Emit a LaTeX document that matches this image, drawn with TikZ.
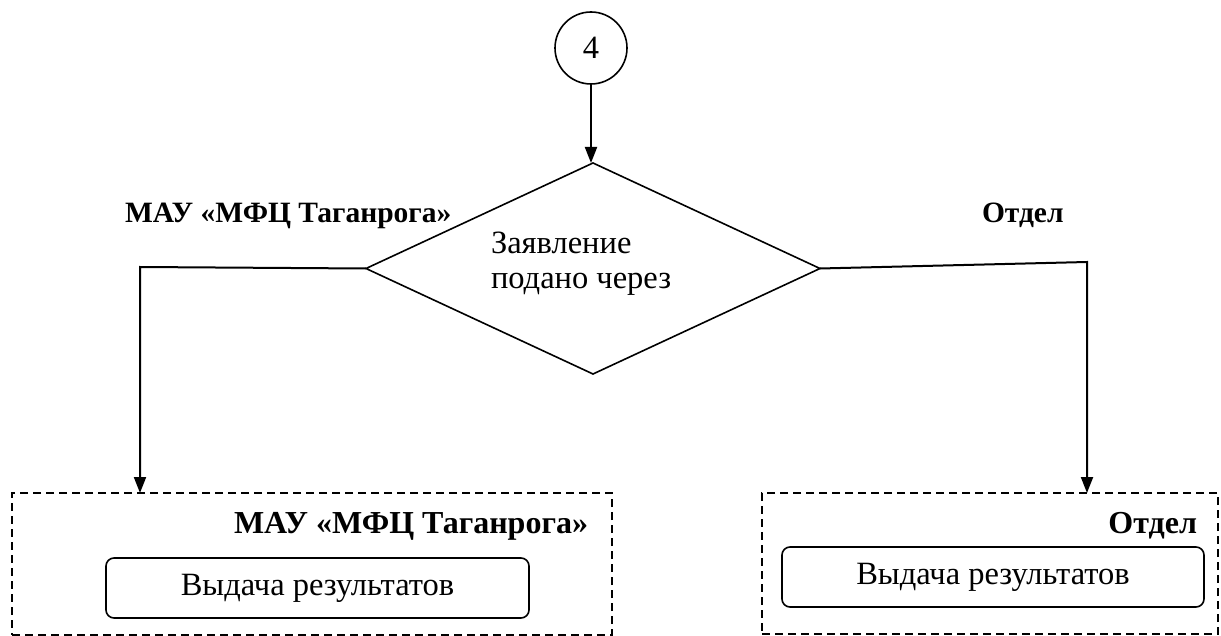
\documentclass[tikz,border=0pt]{standalone}
\usepackage{fontspec}
\setmainfont{Liberation Serif}
\usetikzlibrary{shapes.geometric,arrows.meta,calc}
\begin{document}
\begin{tikzpicture}[x=1pt,y=-1pt,
  every node/.style={inner sep=0pt, outer sep=0pt},
  reg/.style={font=\fontsize{32.5}{35}\selectfont},
  lbl/.style={font=\fontsize{29.5}{34}\selectfont\bfseries},
  lblin/.style={font=\fontsize{32}{36}\selectfont\bfseries},
  ln/.style={line width=2pt},
  arr/.style={ln, -{Triangle[length=16pt,width=12pt]}},
  dbox/.style={draw, dashed, line width=1.5pt, dash pattern=on 8pt off 5pt},
  rbox/.style={draw, line width=1.6pt, rounded corners=8pt}]
\useasboundingbox (0,0) rectangle (1221,636);
% connector circle
\node[circle, draw, line width=1.6pt, minimum size=72pt, reg] (c4) at (591,48) {4};
% decision
\node[diamond, draw, line width=1.6pt, minimum width=454pt, minimum height=211pt] (dec) at (593,268.5) {};
\node[reg, anchor=north west, align=left] (dectext) at (491,232) {Заявление\\подано через};
% branch labels
\node[lbl, anchor=base west] (lmfc) at (125,223) {МАУ «МФЦ Таганрога»};
\node[lbl, anchor=base west] (lotd) at (982,223) {Отдел};
% swimlane boxes
\node[dbox, minimum width=600pt, minimum height=142pt] (lbox) at (312,564) {};
\node[dbox, minimum width=456pt, minimum height=141pt] (rbox) at (990,563.5) {};
\node[lblin, anchor=base east] (lboxlbl) at (588,533) {МАУ «МФЦ Таганрога»};
\node[lblin, anchor=base east] (rboxlbl) at (1197,533) {Отдел};
\node[rbox, reg, minimum width=423pt, minimum height=60pt] (lres) at (317.5,588) {Выдача результатов};
\node[rbox, reg, minimum width=422pt, minimum height=60pt] (rres) at (993,577) {Выдача результатов};
% connectors
\coordinate (lturn) at (140,267);
\coordinate (rturn) at (1087,262);
\draw[arr] (c4.south) -- (c4.south |- dec.north);
\draw[arr] (dec.west) -- (lturn) -- (lturn |- lbox.north);
\draw[arr] (dec.east) -- (rturn) -- (rturn |- rbox.north);
\end{tikzpicture}
\end{document}
